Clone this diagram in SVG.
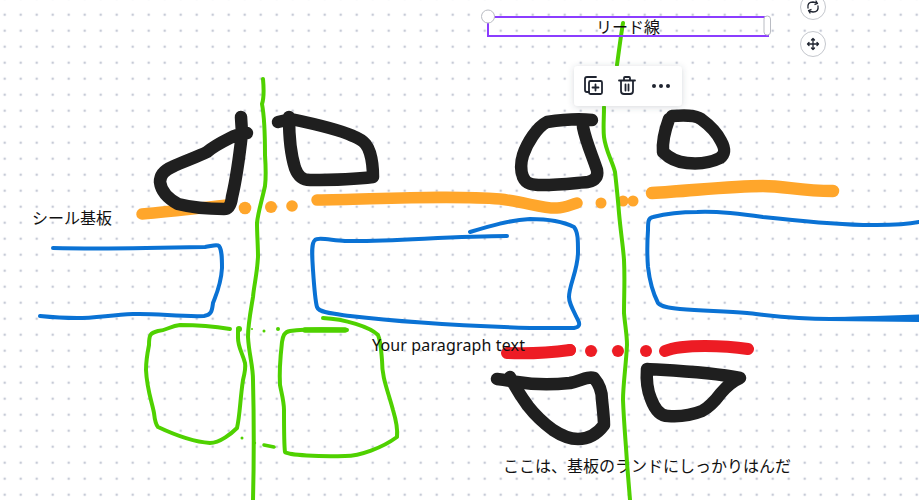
<svg xmlns="http://www.w3.org/2000/svg" width="919" height="500" viewBox="0 0 919 500">
<style>
.ink{fill:none;stroke-linecap:round;stroke-linejoin:round}
.k{stroke:#1f1f1f;stroke-width:12.500}
.o{stroke:#ffa62b;stroke-width:11.500}
.b{stroke:#0a72d4;stroke-width:4}
.g{stroke:#4fd100;stroke-width:4}
.r{stroke:#ed1c24;stroke-width:12}
.t{font-family:"Noto Sans CJK JP","Noto Sans",sans-serif;font-size:16px;fill:#111}
.ui{fill:none;stroke:#1f2430;stroke-width:1.800;stroke-linecap:round;stroke-linejoin:round}
.btn{fill:#fff;stroke:#c4c7cd;stroke-width:1}
</style>
<defs>
<pattern id="dots" x="4.7" y="14.7" width="16" height="16" patternUnits="userSpaceOnUse"><circle cx="0" cy="0" r="1.3" fill="#c6cad6"/><circle cx="16" cy="0" r="1.3" fill="#c6cad6"/><circle cx="0" cy="16" r="1.3" fill="#c6cad6"/><circle cx="16" cy="16" r="1.3" fill="#c6cad6"/></pattern>
<filter id="sh" x="-20%" y="-30%" width="140%" height="170%"><feDropShadow dx="0" dy="1" stdDeviation="3" flood-color="#40475a" flood-opacity=".22"/></filter>
</defs>
<rect width="919" height="500" fill="#fff"/>
<rect width="919" height="500" fill="url(#dots)"/>
<text id="label-bottom" class="t" x="503" y="472">ここは、基板のランドにしっかりはんだ</text>
<g id="orange">
<path class="ink o" d="M142 214C170 212 200 208 227 205"/>
<path class="ink o" d="M317 200C380 199 450 195 500 199C525 202 545 209 557 208C565 208 570 205 577 203"/>
<path class="ink o" style="stroke-width:12.500" d="M652 193C690 191 730 186 763 186C785 186 800 191 833 191"/>
<g fill="#ffa62b"><circle cx="245" cy="208" r="6.300"/><circle cx="271" cy="207" r="6"/><circle cx="292" cy="206" r="5.800"/><circle cx="601" cy="203" r="5.500"/><circle cx="623" cy="201" r="5.500"/><circle cx="633" cy="201" r="5.500"/></g>
</g>
<g id="blue">
<path class="ink b" d="M53 248C100 249 160 248 205 247C212 246 217 244 219 246C222 250 222 258 222 268C221 285 216 295 213 303C212 310 212 315 204 316C180 317 155 313 133 314C110 315 95 318 77 318C65 318 50 317 40 316"/>
<path class="ink b" d="M507 236C450 236 390 242 345 241C330 240 318 237 315 240C311 243 312 255 313 270C314 285 315 300 317 307C319 313 335 314 350 316C400 322 470 326 530 328C545 328 560 328 574 328C580 327 580 324 578 320C572 308 569 303 569 297C569 285 578 270 578 252C578 240 578 232 574 227C560 220 545 219 530 219C510 220 490 226 470 232"/>
<path class="ink b" d="M919 222C900 226 880 225 863 225C830 224 790 220 763 217C735 213 715 211 697 212C680 212 665 214 653 217C648 218 648 222 648 230C647 245 647 255 648 267C650 285 654 295 658 303C661 307 670 308 680 309C705 311 725 311 747 313C775 316 795 319 830 319L919 318"/>
<path d="M830 317.500L919 314.500L919 322L830 321Z" fill="#0a72d4"/>
</g>
<g id="red">
<path class="ink r" d="M507 353C530 354 555 352 570 350"/>
<path class="ink r" d="M665 351C675 347 690 346 705 346C720 346 735 347 748 349"/>
<g fill="#ed1c24"><circle cx="570" cy="350" r="6"/><circle cx="591" cy="351" r="6"/><circle cx="618" cy="351" r="6"/><circle cx="646" cy="351" r="6"/></g>
</g>
<g id="black">
<path class="ink k" d="M241 117L242 133C239 160 236 180 232 197C231 205 229 209 224 209C205 209 190 207 178 204C167 198 161 190 160 182C160 174 165 170 172 167C185 161 197 157 207 152C214 146 222 142 230 138C236 135 241 134 247 133"/>
<path class="ink k" d="M278 122L291 119C315 124 340 130 353 136C366 141 368 147 370 153C373 163 373 170 373 177C350 180 328 180 310 180C302 180 298 176 295 168C290 152 289 135 289 117"/>
<path class="ink k" d="M592 120C575 118 560 120 547 122C537 127 527 143 523 155C520 165 521 172 523 177C526 184 532 185 542 185C560 185 575 183 588 182C596 180 598 176 597 170C592 155 586 142 583 127"/>
<path class="ink k" d="M672 116C685 115 695 115 701 119C712 127 718 135 721 141C726 150 725 154 720 158C708 164 697 164 687 163C675 162 668 157 663 152C662 140 665 130 669 119"/>
<path class="ink k" d="M497 379C505 380 511 381 517 382C535 385 552 385 570 383C580 381 588 376 594 378C600 385 602 392 602 400C603 410 604 418 604 425C598 433 590 439 578 439C570 439 562 436 553 430C542 422 535 415 528 406C520 395 515 387 510 377"/>
<path class="ink k" d="M740 378C710 372 680 371 647 369C646 382 648 392 651 399C655 410 660 416 668 416C680 417 692 415 702 411C710 407 715 401 721 393C727 386 733 381 740 378Z"/>
</g>
<g id="green">
<path class="ink g" d="M263 79C264 90 264 98 262 104C265 120 265 140 265 155C266 170 266 178 265 186C262 200 258 212 257 223C257 235 258 245 258 257C257 275 254 285 253 297C250 315 248 325 248 337C249 355 253 365 253 380C254 420 254 460 253 500"/>
<path class="ink g" d="M623 23C621 35 619 50 617 65M604 107C604 118 603 128 604 137C606 152 612 160 615 172C617 190 618 200 619 213C621 235 623 245 624 260C625 280 624 295 624 313C625 325 627 335 627 345C626 365 623 385 623 400C624 425 626 445 627 463C628 475 629 488 630 500"/>
<path class="ink g" d="M230 329C212 326 195 325 180 325C170 326 168 330 158 331C150 333 149 335 149 345C147 355 146 360 146 370C147 390 152 402 154 413C155 422 156 425 158 427C175 435 195 442 210 443C220 443 232 433 237 428C240 415 240 400 243 380C245 372 246 368 245 363C242 352 238 347 238 338L238 329"/>
<path class="ink g" d="M347 330C325 329 305 329 290 331C284 332 283 336 282 342C280 360 279 370 280 385C282 395 284 402 284 410C284 430 284 445 285 452C288 455 320 457 345 456C360 456 382 448 397 437C398 428 396 420 393 410C387 388 382 378 382 360C381 350 381 342 378 335C370 327 345 319 323 318"/>
<path class="ink g" style="stroke-width:5.500" d="M305 330L345 330"/>
<path class="ink g" style="stroke-width:3.500" d="M264 445L274 447"/>
<g fill="#4fd100"><circle cx="252" cy="329" r="1"/><circle cx="264" cy="331" r="1.500"/><circle cx="278" cy="329" r="2"/><circle cx="242" cy="438" r="1.500"/><circle cx="255" cy="443" r="1.200"/><circle cx="239" cy="329" r="3"/></g>
</g>
<text id="label-seal" class="t" x="32" y="224">シール基板</text>
<text id="label-para" x="372" y="351" style="font-family:'Noto Sans',sans-serif;font-size:16px;fill:#111" textLength="153">Your paragraph text</text>
<g id="selection">
<rect x="488" y="17" width="280" height="19" fill="none" stroke="#8b3dff" stroke-width="2"/>
<text class="t" x="628" y="33" text-anchor="middle">リード線</text>
<circle cx="488" cy="16.500" r="6.500" fill="#fff" stroke="#b9bcc3"/>
<rect x="764" y="16" width="6.500" height="19" rx="3" fill="#fff" stroke="#b9bcc3"/>
</g>
<g id="rotate-button">
<circle class="btn" cx="813" cy="7" r="12.500"/>
<path class="ui" style="stroke-width:1.300" d="M808 8Q807 2 813 2L817 3M818 6Q819 12 813 12L809 11M816 1L817.500 3.500L815 4.500M810 13L808.500 10.500L811 9.500"/>
</g>
<g id="move-button">
<circle class="btn" cx="813" cy="44" r="12.500"/>
<path class="ui" style="stroke-width:1.300" d="M813 38.500V49.500M807.500 44H818.500M811.500 40L813 38.500L814.500 40M811.500 48L813 49.500L814.500 48M809 42.500L807.500 44L809 45.500M817 42.500L818.500 44L817 45.500"/>
</g>
<g id="toolbar">
<rect x="574" y="66" width="108" height="40" rx="4" fill="#fff" filter="url(#sh)"/>
<path class="ui" d="M589 92H587Q585 92 585 90V79Q585 77 587 77H596"/>
<rect class="ui" x="589" y="81" width="13" height="13" rx="1.500"/>
<path class="ui" d="M595.500 84.500V90.500M592.500 87.500H598.500"/>
<path class="ui" d="M619 80.500H635M624 80V78Q624 77 625 77H629Q630 77 630 78V80M621 81V91Q621 94 624 94H630Q633 94 633 91V81M625.500 84.500V90.500M628.500 84.500V90.500"/>
<g fill="#1f2430"><circle cx="654" cy="86" r="2"/><circle cx="661" cy="86" r="2"/><circle cx="668" cy="86" r="2"/></g>
</g>
</svg>
